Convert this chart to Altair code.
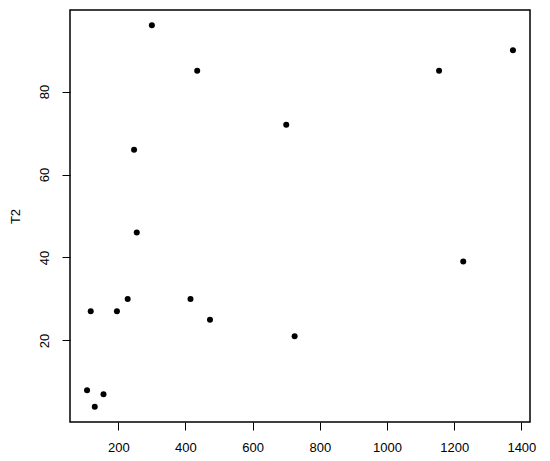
import altair as alt
import pandas as pd

x_vals = [107, 130, 156, 118, 196, 228, 247, 255, 300, 415, 435, 473, 700, 725, 1155, 1227, 1375]
t2_vals = [8, 4, 7, 27, 27, 30, 66, 46, 96, 30, 85, 25, 72, 21, 85, 39, 90]
x_ticks = [200, 400, 600, 800, 1000, 1200, 1400]
y_ticks = [20, 40, 60, 80]

df = pd.DataFrame({"X": x_vals, "T2": t2_vals})

xmin, xmax = min(x_vals), max(x_vals)
ymin, ymax = min(t2_vals), max(t2_vals)
xpad = (xmax - xmin) * 0.04
ypad = (ymax - ymin) * 0.04

font = "Liberation Sans"

chart = alt.Chart(df).mark_circle(size=36, color="black", opacity=1).encode(
    x=alt.X("X:Q",
            scale=alt.Scale(domain=[xmin - xpad, xmax + xpad], nice=False, zero=False),
            axis=alt.Axis(values=x_ticks, format="d", title=None, grid=False, domain=False,
                          tickSize=8, tickColor="black", tickWidth=1,
                          labelFont=font, labelFontSize=13, labelColor="black",
                          labelPadding=11, labelBaseline="top", labelAlign="center",
                          labelFlush=False, labelOverlap=False)),
    y=alt.Y("T2:Q",
            scale=alt.Scale(domain=[ymin - ypad, ymax + ypad], nice=False, zero=False),
            axis=alt.Axis(values=y_ticks, format="d", title="T2", grid=False, domain=False,
                          tickSize=8, tickColor="black", tickWidth=1,
                          labelFont=font, labelFontSize=13, labelColor="black",
                          labelAngle=270, labelAlign="center", labelBaseline="middle",
                          labelPadding=18, labelFlush=False, labelOverlap=False,
                          titleFont=font, titleFontSize=13, titleColor="black",
                          titleFontWeight="normal", titleAngle=270,
                          titleAlign="center", titleBaseline="middle",
                          titleX=-55, titleY=206)),
).properties(
    width=460,
    height=412,
    autosize=alt.AutoSizeParams(type="none"),
    padding={"left": 62, "top": 2, "right": 10, "bottom": 40},
).configure(
    background="white",
    view=alt.ViewConfig(stroke="black", strokeWidth=1.5),
)

chart.save("out.html", embed_options={"renderer": "svg", "actions": False})
